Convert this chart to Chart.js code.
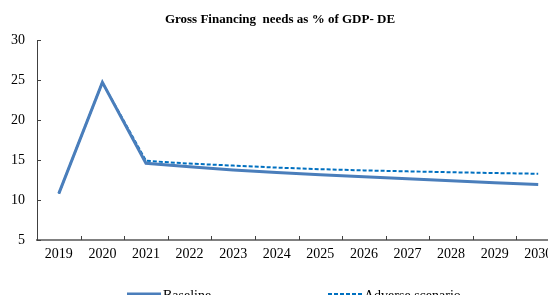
<!DOCTYPE html>
<html>
<head>
<meta charset="utf-8">
<script src="https://cdn.jsdelivr.net/npm/chart.js@4.4.0/dist/chart.umd.min.js"></script>
<style>
  html, body { margin: 0; padding: 0; background: #fff; }
  #wrap { width: 548px; height: 295px; overflow: hidden; position: relative; }
</style>
</head>
<body>
<div id="wrap"><canvas id="gfnChart" width="560" height="295"></canvas></div>
<script>
// Years on the x axis
const years = ["2019", "2020", "2021", "2022", "2023", "2024", "2025", "2026", "2027", "2028", "2029", "2030"];

// Gross financing needs, % of GDP
const baseline = [10.8, 24.7, 14.6, 14.15, 13.75, 13.45, 13.15, 12.9, 12.65, 12.4, 12.15, 11.95];
const adverse = [10.8, 24.7, 14.9, 14.55, 14.3, 14.05, 13.85, 13.7, 13.58, 13.47, 13.37, 13.28];

const seriesNames = ["Baseline", "Adverse scenario"];
const yTicks = [5, 10, 15, 20, 25, 30];

const serif = "'Liberation Serif', 'DejaVu Serif', serif";

// small inside tick marks like the original
const innerTicks = {
  id: "innerTicks",
  afterDraw(chart) {
    const { ctx, chartArea, scales } = chart;
    ctx.save();
    ctx.strokeStyle = "#404040";
    ctx.lineWidth = 1;
    for (let i = 1; i < years.length; i++) {
      const x = Math.round((scales.x.getPixelForTick(i - 1) + scales.x.getPixelForTick(i)) / 2) + 0.5;
      ctx.beginPath();
      ctx.moveTo(x, chartArea.bottom);
      ctx.lineTo(x, chartArea.bottom - 4);
      ctx.stroke();
    }
    yTicks.forEach((v) => {
      const y = Math.round(scales.y.getPixelForValue(v)) + 0.5;
      ctx.beginPath();
      ctx.moveTo(chartArea.left, y);
      ctx.lineTo(chartArea.left + 4, y);
      ctx.stroke();
    });
    ctx.restore();
  },
};

// legend at the bottom, cut off in the original
const bottomLegend = {
  id: "bottomLegend",
  afterDraw(chart) {
    const ctx = chart.ctx;
    const items = [
      { x: 127, ds: chart.data.datasets[0] },
      { x: 328, ds: chart.data.datasets[1] },
    ];
    ctx.save();
    ctx.font = "14px " + serif;
    ctx.textBaseline = "top";
    ctx.fillStyle = "#000";
    items.forEach((it) => {
      ctx.beginPath();
      ctx.strokeStyle = it.ds.borderColor;
      ctx.lineWidth = it.ds.borderWidth + 1;
      ctx.setLineDash(it.ds.borderDash || []);
      ctx.moveTo(it.x, 294.5);
      ctx.lineTo(it.x + 34, 294.5);
      ctx.stroke();
      ctx.setLineDash([]);
      ctx.fillText(it.ds.label, it.x + 36, 289);
    });
    ctx.restore();
  },
};

new Chart(document.getElementById("gfnChart"), {
  type: "line",
  data: {
    labels: years,
    datasets: [
      {
        label: seriesNames[0],
        data: baseline,
        borderColor: "#4a7ebb",
        borderWidth: 3,
        pointRadius: 0,
        tension: 0,
        fill: false,
      },
      {
        label: seriesNames[1],
        data: adverse,
        borderColor: "#0070c0",
        borderWidth: 2,
        borderDash: [4, 2],
        pointRadius: 0,
        tension: 0,
        fill: false,
      },
    ],
  },
  options: {
    responsive: false,
    animation: false,
    layout: { padding: { left: 0, right: 0, top: 0, bottom: 0 } },
    plugins: {
      legend: { display: false },
      tooltip: { enabled: false },
      title: {
        display: true,
        text: "Gross Financing  needs as % of GDP- DE",
        color: "#000",
        font: { family: serif, size: 13, weight: "bold" },
        padding: { top: 12, bottom: 12.4 },
      },
    },
    scales: {
      x: {
        offset: true,
        grid: { display: false, drawTicks: false },
        border: { display: true, color: "#808080", width: 2 },
        ticks: {
          color: "#000",
          font: { family: serif, size: 14 },
          padding: 6,
          maxRotation: 0,
          autoSkip: false,
        },
        afterFit(scale) {
          scale.height = 55;
        },
      },
      y: {
        min: 5,
        max: 30,
        grid: { display: false, drawTicks: false },
        border: { display: true, color: "#404040", width: 1 },
        ticks: {
          stepSize: 5,
          color: "#000",
          font: { family: serif, size: 14 },
          padding: 12,
        },
        afterFit(scale) {
          scale.width = 37;
        },
      },
    },
  },
  plugins: [innerTicks, bottomLegend],
});
</script>
</body>
</html>
